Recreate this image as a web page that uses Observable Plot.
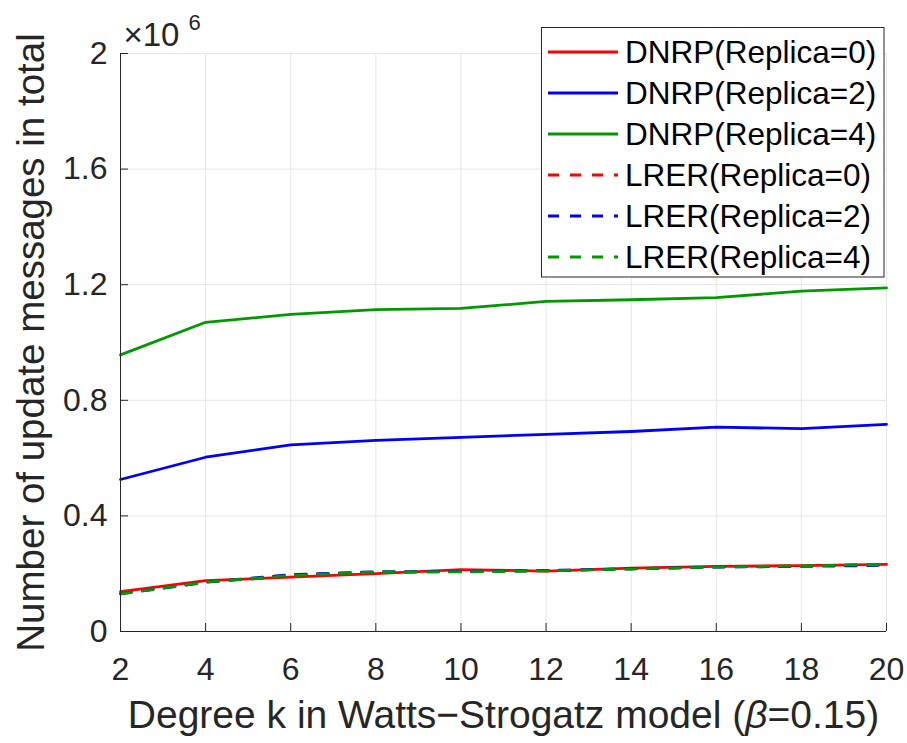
<!DOCTYPE html>
<html><head><meta charset="utf-8">
<script src="https://cdn.jsdelivr.net/npm/d3@7"></script>
<script src="https://cdn.jsdelivr.net/npm/@observablehq/plot@0.6"></script>
<style>body{margin:0;background:#fff}</style>
</head><body><div id="chart"></div>
<script>
// ---- data ----
const kValues = [2, 4, 6, 8, 10, 12, 14, 16, 18, 20];
const dnrp0 = [0.138e6, 0.176e6, 0.188e6, 0.200e6, 0.214e6, 0.209e6, 0.219e6, 0.225e6, 0.228e6, 0.232e6];
const dnrp2 = [0.526e6, 0.603e6, 0.646e6, 0.661e6, 0.672e6, 0.682e6, 0.692e6, 0.707e6, 0.702e6, 0.717e6];
const dnrp4 = [0.957e6, 1.070e6, 1.097e6, 1.114e6, 1.118e6, 1.142e6, 1.148e6, 1.155e6, 1.178e6, 1.189e6];
const lrer0 = [0.132e6, 0.172e6, 0.190e6, 0.203e6, 0.208e6, 0.210e6, 0.217e6, 0.224e6, 0.227e6, 0.232e6];
const lrer2 = [0.130e6, 0.170e6, 0.197e6, 0.207e6, 0.207e6, 0.211e6, 0.217e6, 0.223e6, 0.225e6, 0.229e6];
const lrer4 = [0.130e6, 0.171e6, 0.194e6, 0.206e6, 0.206e6, 0.210e6, 0.216e6, 0.223e6, 0.227e6, 0.232e6];
const seriesNames = ["DNRP(Replica=0)", "DNRP(Replica=2)", "DNRP(Replica=4)", "LRER(Replica=0)", "LRER(Replica=2)", "LRER(Replica=4)"];
const seriesValues = [dnrp0, dnrp2, dnrp4, lrer0, lrer2, lrer4];
const seriesColors = ["#ff0000", "#0000ff", "#009900", "#ff0000", "#0000ff", "#009900"];
const seriesDashed = [false, false, false, true, true, true];
const xTicks = [2, 4, 6, 8, 10, 12, 14, 16, 18, 20];
const yTicks = [0, 0.4e6, 0.8e6, 1.2e6, 1.6e6, 2e6];
const yTickLabels = ["0", "0.4", "0.8", "1.2", "1.6", "2"];
const xLabel = "Degree k in Watts\u2212Strogatz model (\u03B2=0.15)";
const yLabel = "Number of update messages in total";

// ---- layout ----
const W = 907, H = 743, mL = 120, mR = 21, mT = 53, mB = 112;
const innerW = W - mL - mR, innerH = H - mT - mB;
const axisColor = "#262626", gridColor = "#e6e6e6";
const dash = "11,11";
const lw = 2.8;
const fontFam = "'Liberation Sans', Arial, Helvetica, sans-serif";

const lineMarks = seriesValues.map((vals, i) =>
  Plot.line(kValues.map((k, j) => ({k, v: vals[j]})), {
    x: "k", y: "v", stroke: seriesColors[i], strokeWidth: lw,
    strokeDasharray: seriesDashed[i] ? dash : null, strokeLinejoin: "round"
  })
);

const plot = Plot.plot({
  width: W, height: H, marginLeft: mL, marginRight: mR, marginTop: mT, marginBottom: mB,
  style: {fontFamily: fontFam, background: "#fff", color: axisColor},
  x: {domain: [2, 20]},
  y: {domain: [0, 2e6]},
  marks: [
    Plot.frame({stroke: gridColor}),
    Plot.gridX(xTicks, {stroke: gridColor, strokeOpacity: 1}),
    Plot.gridY(yTicks, {stroke: gridColor, strokeOpacity: 1}),
    ...lineMarks,
    Plot.ruleX([2], {stroke: axisColor}),
    Plot.ruleY([0], {stroke: axisColor}),
    Plot.tickX(xTicks, {x: d => d, stroke: axisColor, insetTop: innerH - 8}),
    Plot.tickY(yTicks, {y: d => d, stroke: axisColor, insetRight: innerW - 8}),
    Plot.axisX(xTicks, {tickSize: 0, tickPadding: 26, fontSize: 32, label: null, fill: axisColor}),
    Plot.axisY(yTicks, {tickSize: 0, tickPadding: 13, fontSize: 32, label: null, fill: axisColor,
      tickFormat: d => yTickLabels[yTicks.indexOf(d)]}),
    Plot.text([xLabel], {frameAnchor: "bottom", lineAnchor: "middle", textAnchor: "middle", dy: 84, fontSize: 39, fill: axisColor}),
    Plot.text([yLabel], {frameAnchor: "left", lineAnchor: "middle", textAnchor: "middle", dx: -89, rotate: -90, fontSize: 38.5, fill: axisColor}),
    Plot.text(["\u00D710"], {frameAnchor: "top-left", lineAnchor: "middle", textAnchor: "start", dx: 3, dy: -18, fontSize: 33, fill: axisColor}),
    Plot.text(["6"], {frameAnchor: "top-left", lineAnchor: "middle", textAnchor: "start", dx: 68, dy: -31, fontSize: 22, fill: axisColor})
  ]
});

document.getElementById("chart").appendChild(plot);

// italic beta in x label
d3.select(plot).selectAll("text").filter(function() { return this.textContent === xLabel; })
  .each(function() {
    const t = d3.select(this);
    t.text(null);
    t.append("tspan").text("Degree k in Watts\u2212Strogatz model (");
    t.append("tspan").attr("font-style", "italic").text("\u03B2");
    t.append("tspan").text("=0.15)");
  });

// legend
const lg = d3.select(plot).append("g").attr("font-family", fontFam).attr("text-anchor", "start");
const boxX = 541.5, boxY = 27.5, boxW = 342.5, boxH = 249.5;
lg.append("rect").attr("x", boxX).attr("y", boxY).attr("width", boxW).attr("height", boxH)
  .attr("fill", "#fff").attr("stroke", axisColor).attr("stroke-width", 1);
seriesNames.forEach((name, i) => {
  const cy = 52 + i * 41;
  lg.append("line").attr("x1", 548).attr("x2", 618).attr("y1", cy).attr("y2", cy)
    .attr("stroke", seriesColors[i]).attr("stroke-width", lw)
    .attr("stroke-dasharray", seriesDashed[i] ? dash : null);
  lg.append("text").attr("x", 625).attr("y", cy).attr("dy", "0.35em")
    .attr("text-anchor", "start").attr("font-size", 31.5).attr("fill", "#000").text(name);
});
</script>
</body></html>
